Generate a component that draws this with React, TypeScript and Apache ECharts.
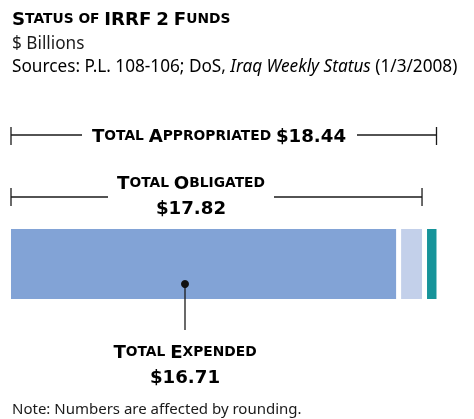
import React, { useEffect, useRef } from 'react';
import * as echarts from 'echarts';

const categories = ['IRRF 2'];
const segmentNames = ['Expended', 'Obligated, Not Expended', 'Unobligated'];
const segmentValues = [16.71, 1.11, 0.62];
const segmentColors = ['#82A3D6', '#C3D0EA', '#16949A'];
const totalLabels = ['Total Appropriated', 'Total Obligated', 'Total Expended'];
const totalValues = [18.44, 17.82, 16.71];
const axisMax = 18.44;

const FONT = '"Noto Sans", "Open Sans", sans-serif';
const LABEL_FONT = '"DejaVu Sans", "Noto Sans", sans-serif';

// small caps: all-caps words, numbers stay large; lowercase words become small caps
function caps(text: string): string {
  return text
    .split(' ')
    .map((w) => {
      if (/^[$0-9]/.test(w) || (w.length > 1 && w === w.toUpperCase())) return `{b|${w}}`;
      if (w === w.toLowerCase()) return `{s|${w.toUpperCase()}}`;
      const first = w.charAt(0).toUpperCase();
      const rest = w.slice(1).toUpperCase();
      return rest ? `{b|${first}}{s|${rest}}` : `{b|${first}}`;
    })
    .join('{s| }');
}

const labelRich = {
  b: { fontFamily: LABEL_FONT, fontWeight: 'bold', fontSize: 18.2, color: '#151515', lineHeight: 20 },
  s: { fontFamily: LABEL_FONT, fontWeight: 'bold', fontSize: 13.8, color: '#151515', lineHeight: 20 },
};
const titleRich = {
  b: { fontFamily: LABEL_FONT, fontWeight: 900, fontSize: 18.2, color: '#111', lineHeight: 20 },
  s: { fontFamily: LABEL_FONT, fontWeight: 900, fontSize: 13.8, color: '#111', lineHeight: 20 },
};

export default function App() {
  const ref = useRef<HTMLDivElement>(null);
  useEffect(() => {
    if (!ref.current) return;
    const chart = echarts.init(ref.current, null, { renderer: 'svg' });
    const border = 2.5;
    const inset = border; // ECharts keeps the bar border inside the bar
    chart.setOption({
      animation: false,
      grid: { left: 8.5, top: 226.5, width: 430.5, height: 75 },
      xAxis: { type: 'value', min: 0, max: axisMax, show: false },
      yAxis: { type: 'category', data: categories, show: false },
      series: segmentNames.map((name, i) => ({
        name,
        type: 'bar',
        stack: 'funds',
        barWidth: 75,
        data: [segmentValues[i]],
        itemStyle: { color: segmentColors[i], borderColor: '#fff', borderWidth: border },
      })),
    });

    const px = (v: number) => chart.convertToPixel({ xAxisIndex: 0 }, v) as number;
    const x0 = px(0) + inset;
    const xApp = px(totalValues[0]) - inset;
    const xObl = px(totalValues[1]) - inset;
    const lineStyle = { stroke: '#1a1a1a', lineWidth: 1.3 };
    const hline = (x1: number, x2: number, y: number) => ({
      type: 'line', z: 100, shape: { x1, y1: y, x2, y2: y }, style: lineStyle,
    });
    const vline = (x: number, y1: number, y2: number) => ({
      type: 'line', z: 100, shape: { x1: x, y1, x2: x, y2 }, style: lineStyle,
    });
    const label = (text: string, x: number, y: number, rich = labelRich) => ({
      type: 'text', z: 100, x, y,
      style: { text, rich, align: 'center', verticalAlign: 'middle' },
    });

    chart.setOption({
      graphic: [
        {
          type: 'text', z: 100, x: 12, y: 18,
          style: { text: caps('Status of IRRF 2 Funds'), rich: titleRich, verticalAlign: 'middle' },
        },
        {
          type: 'text', z: 100, x: 12, y: 42,
          style: {
            text: '$ Billions', fontFamily: FONT, fontSize: 17.2, lineHeight: 18,
            fill: '#1a1a1a', verticalAlign: 'middle',
          },
        },
        {
          type: 'text', z: 100, x: 12, y: 65,
          style: {
            text: '{n|Sources: P.L. 108-106; DoS, }{i|Iraq Weekly Status}{n| (1/3/2008)}',
            verticalAlign: 'middle',
            rich: {
              n: { fontFamily: FONT, fontSize: 17.2, color: '#1a1a1a', lineHeight: 18 },
              i: { fontFamily: FONT, fontSize: 17.2, fontStyle: 'italic', color: '#1a1a1a', lineHeight: 18 },
            },
          },
        },
        // Appropriated bracket
        hline(x0, 82, 135), hline(357, xApp, 135),
        vline(x0, 127, 145), vline(xApp, 127, 145),
        label(caps(`${totalLabels[0]} $${totalValues[0].toFixed(2)}`), 219, 135),
        // Obligated bracket
        hline(x0, 108, 197), hline(274, xObl, 197),
        vline(x0, 188, 206), vline(xObl, 188, 206),
        label(caps(totalLabels[1]), 191, 182),
        label(caps(`$${totalValues[1].toFixed(2)}`), 191, 207),
        // Expended callout
        { type: 'circle', z: 101, shape: { cx: 185, cy: 284, r: 4 }, style: { fill: '#111' } },
        vline(185, 284, 330),
        label(caps(totalLabels[2]), 185, 351),
        label(caps(`$${totalValues[2].toFixed(2)}`), 185, 376),
        {
          type: 'text', z: 100, x: 12, y: 408,
          style: {
            text: 'Note: Numbers are affected by rounding.',
            fontFamily: FONT, fontSize: 15, lineHeight: 18, fill: '#1a1a1a', verticalAlign: 'middle',
          },
        },
      ],
    });
    return () => chart.dispose();
  }, []);
  return <div ref={ref} style={{ position: 'fixed', left: 0, top: 0, width: 474, height: 419 }} />;
}
